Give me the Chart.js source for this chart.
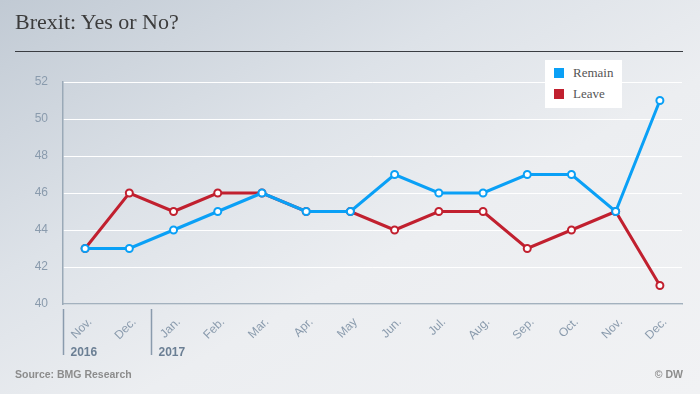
<!DOCTYPE html>
<html><head><meta charset="utf-8">
<script src="https://cdn.jsdelivr.net/npm/chart.js@4/dist/chart.umd.min.js"></script>
<style>
html,body{margin:0;padding:0;}
body{width:700px;height:394px;overflow:hidden;position:relative;
background:linear-gradient(to bottom right,#c1cad4 0%,#dde2e8 35%,#eceef1 60%,#f1f2f4 100%);}
#wrap{position:absolute;left:0;top:0;width:700px;height:394px;}
#title{position:absolute;left:15px;top:9px;font-family:"Liberation Serif",serif;font-size:22px;color:#3c3c3c;white-space:nowrap;}
#rule{position:absolute;left:15px;top:51px;width:668px;height:0;border-top:1.5px solid #3a3d42;}
#legend{position:absolute;left:545px;top:60px;width:77px;height:48px;background:#fff;font-family:"Liberation Serif",serif;font-size:13px;color:#555;}
.li{position:absolute;left:9px;height:14px;line-height:14px;white-space:nowrap;}
.sw{display:inline-block;width:10px;height:10px;vertical-align:-1px;margin-right:9px;}
#src{position:absolute;left:15px;top:368px;font-family:"Liberation Sans",Arial,sans-serif;font-weight:bold;font-size:10.5px;color:#8c8c8c;}
#dw{position:absolute;right:17px;top:368px;font-family:"Liberation Sans",Arial,sans-serif;font-weight:bold;font-size:10.5px;color:#8c8c8c;}
</style></head>
<body>
<div id="wrap"><canvas id="c" width="700" height="394"></canvas></div>
<div id="title">Brexit: Yes or No?</div>
<div id="rule"></div>
<div id="legend">
  <div class="li" style="top:6px"><span class="sw" style="background:#0aa0f6"></span>Remain</div>
  <div class="li" style="top:27px"><span class="sw" style="background:#c1202f"></span>Leave</div>
</div>
<div id="src">Source: BMG Research</div>
<div id="dw">© DW</div>
<script>
const months = ["Nov.","Dec.","Jan.","Feb.","Mar.","Apr.","May","Jun.","Jul.","Aug.","Sep.","Oct.","Nov.","Dec."];
const years = ["2016","2017"];
const yearStartIndex = [0, 2];
const remain = [43,43,44,45,46,45,45,47,46,46,47,47,45,51];
const leave  = [43,46,45,46,46,45,45,44,45,45,43,44,45,41];
const yTicks = [40,42,44,46,48,50,52];

const BLUE = "#0aa0f6", RED = "#c1202f", AXIS = "#8a9bad";

const yearPlugin = {
  id: "years",
  afterDraw(chart) {
    const ctx = chart.ctx, x = chart.scales.x;
    const step = x.getPixelForValue(1) - x.getPixelForValue(0);
    ctx.save();
    ctx.strokeStyle = AXIS; ctx.lineWidth = 1.5;
    ctx.fillStyle = "#6b7f94";
    ctx.font = "bold 12px 'Liberation Sans', Arial, sans-serif";
    ctx.textBaseline = "alphabetic";
    years.forEach((yr, i) => {
      const px = Math.round(x.getPixelForValue(yearStartIndex[i]) - step / 2) + 0.5;
      ctx.beginPath(); ctx.moveTo(px, 309); ctx.lineTo(px, 355); ctx.stroke();
      ctx.fillText(yr, px + 7, 356);
    });
    ctx.restore();
  }
};

new Chart(document.getElementById("c"), {
  type: "line",
  data: {
    labels: months,
    datasets: [
      { label: "Remain", data: remain, borderColor: BLUE, backgroundColor: "#fff",
        pointBackgroundColor: "#fff", pointBorderColor: BLUE, borderWidth: 3,
        pointRadius: 3.5, pointBorderWidth: 2, tension: 0 },
      { label: "Leave", data: leave, borderColor: RED, backgroundColor: "#fff",
        pointBackgroundColor: "#fff", pointBorderColor: RED, borderWidth: 3,
        pointRadius: 3.5, pointBorderWidth: 2, tension: 0 }
    ]
  },
  options: {
    responsive: false, animation: false,
    layout: { padding: { left: 0, right: 18, top: 82, bottom: 0 } },
    plugins: { legend: { display: false }, tooltip: { enabled: false } },
    scales: {
      x: {
        offset: true,
        grid: { display: false, drawTicks: false },
        border: { color: "#a3b1be", width: 1.5 },
        ticks: { color: AXIS, maxRotation: 45, minRotation: 45, padding: 11, labelOffset: 5, autoSkip: false,
          font: { family: "'Liberation Sans', Arial, sans-serif", size: 12 } },
        afterFit(s) { s.height = 90; }
      },
      y: {
        min: 40, max: 52,
        afterBuildTicks(s) { s.ticks = yTicks.map(v => ({ value: v })); },
        grid: { color: "#ffffff", lineWidth: 1, drawTicks: false },
        border: { color: "#9aa9b7", width: 1.5 },
        ticks: { color: AXIS, padding: 15,
          font: { family: "'Liberation Sans', Arial, sans-serif", size: 12 } },
        afterFit(s) { s.width = 63; }
      }
    }
  },
  plugins: [yearPlugin]
});
</script>
</body></html>
